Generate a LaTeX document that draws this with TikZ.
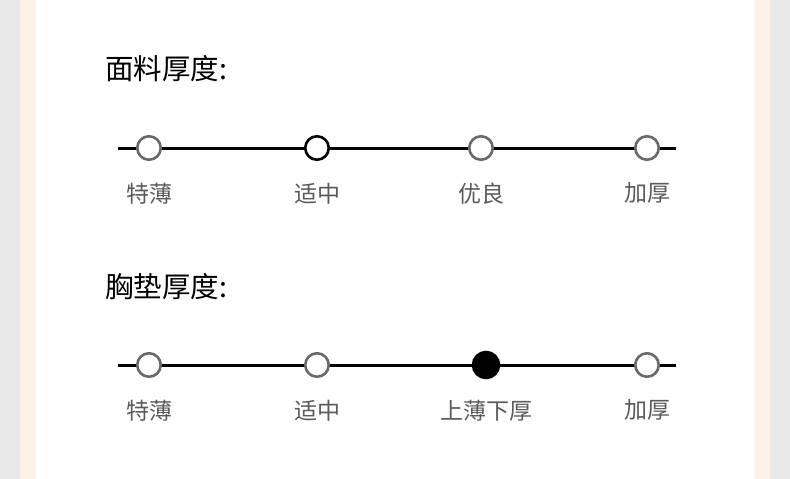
\documentclass[tikz,border=0pt]{standalone}
\usepackage{fontspec}
\setmainfont{Noto Sans CJK SC}
\usepackage{tikz}
\usepackage{xcolor}
\usetikzlibrary{positioning}
\definecolor{pagegrey}{RGB}{233, 233, 233}
\definecolor{peachstrip}{RGB}{253, 242, 231}
\definecolor{dotgrey}{RGB}{105, 105, 105}
\definecolor{labelgrey}{RGB}{90, 90, 90}

\begin{document}
\begin{tikzpicture}[x=1pt, y=-1pt, node distance=23pt,
  title/.style={anchor=west, inner sep=0pt, font=\fontsize{28.5}{33}\selectfont, text=black},
  lab/.style={inner sep=0pt, font=\fontsize{23}{27}\selectfont, text=labelgrey},
  track/.style={line width=3pt, black},
  dot/.style={circle, minimum size=23.5pt, inner sep=0pt, outer sep=0pt, line width=2.6pt, draw=dotgrey, fill=white},
  picked/.style={dot, draw=black},
  chosen/.style={dot, minimum size=26pt, draw=black, fill=black}]
\useasboundingbox (0,0) rectangle (790,479);
\fill[pagegrey] (0,0) rectangle (790,479);
\fill[peachstrip] (20,0) rectangle (770,479);
\fill[white] (36,0) rectangle (754,479);

% fabric thickness
\node[title] (fabric) at (105,69) {面料厚度:};
\coordinate (fstart) at (118,148);
\coordinate (fend) at (676,148);
\draw[track] (fstart) -- (fend);
\node[dot] (f1) at (149,148) {};
\node[picked] (f2) at (317,148) {};
\node[dot] (f3) at (481,148) {};
\node[dot] (f4) at (647,148) {};
\node[lab, below=of f1] (fl1) {特薄};
\node[lab, below=of f2] (fl2) {适中};
\node[lab, below=of f3] (fl3) {优良};
\node[lab, below=of f4] (fl4) {加厚};

% pad thickness
\node[title] (pad) at (105,287) {胸垫厚度:};
\coordinate (pstart) at (118,365);
\coordinate (pend) at (676,365);
\draw[track] (pstart) -- (pend);
\node[dot] (p1) at (149,365) {};
\node[dot] (p2) at (317,365) {};
\node[chosen] (p3) at (486,365) {};
\node[dot] (p4) at (647,365) {};
\node[lab, below=of p1] (pl1) {特薄};
\node[lab, below=of p2] (pl2) {适中};
\node[lab, below=21.5pt of p3] (pl3) {上薄下厚};
\node[lab, below=of p4] (pl4) {加厚};
\end{tikzpicture}
\end{document}
